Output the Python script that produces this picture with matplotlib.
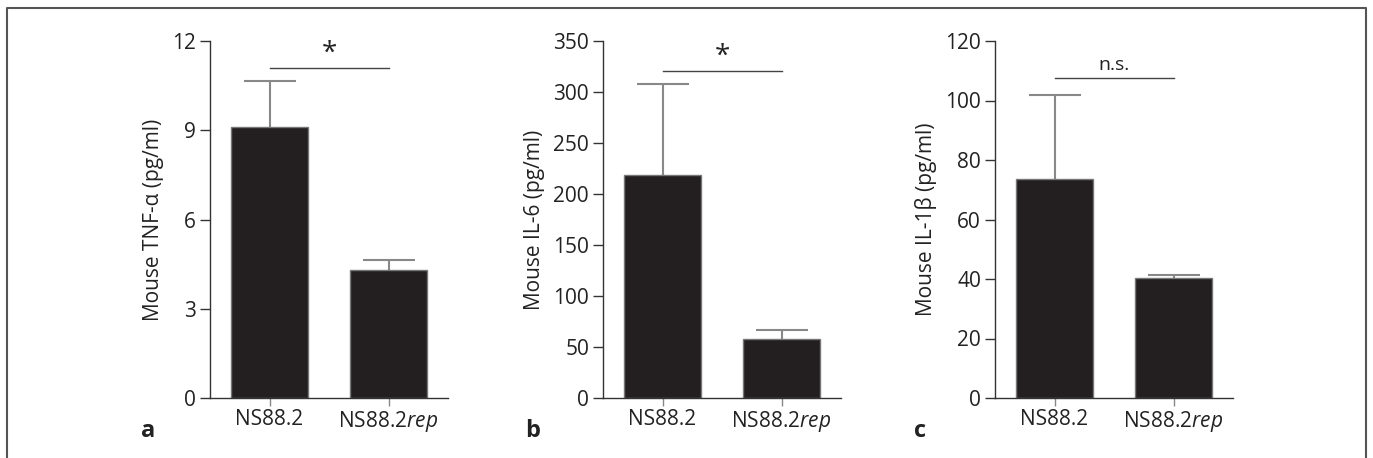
import matplotlib
matplotlib.use("Agg")
import matplotlib.pyplot as plt

plt.rcParams['font.family'] = ['Open Sans', 'DejaVu Sans']
plt.rcParams['mathtext.fontset'] = 'custom'
plt.rcParams['mathtext.rm'] = 'Open Sans'
plt.rcParams['mathtext.it'] = 'Open Sans:italic'

groups = ['NS88.2', 'NS88.2$\\mathit{rep}$']

tnf_mean = [9.1, 4.3]
tnf_err = [1.55, 0.35]
il6_mean = [219, 58]
il6_err = [89, 9]
il1b_mean = [73.5, 40.5]
il1b_err = [28.5, 0.8]

panels = [
    ('a', 'Mouse TNF-α (pg/ml)', tnf_mean, tnf_err, 12, [0, 3, 6, 9, 12], 11.1, '*'),
    ('b', 'Mouse IL-6 (pg/ml)', il6_mean, il6_err, 350, [0, 50, 100, 150, 200, 250, 300, 350], 321, '*'),
    ('c', 'Mouse IL-1β (pg/ml)', il1b_mean, il1b_err, 120, [0, 20, 40, 60, 80, 100, 120], 107.7, 'n.s.'),
]
lefts = [210, 603, 995]
label_x = [141, 525, 914]

W, H = 1373, 458
fig = plt.figure(figsize=(W / 100, H / 100), dpi=100)

# open-bottom frame around the figure
fig.add_artist(plt.Line2D([7 / W, 7 / W, 1366 / W, 1366 / W], [0, 1 - 8 / H, 1 - 8 / H, 0],
                          transform=fig.transFigure, color='#555555', lw=1.5))

spine_col = '#333333'
txt_col = '#222222'
for (lab, ylab, mean, err, ymax, ticks, sig_y, sig_txt), left, lx in zip(panels, lefts, label_x):
    ax = fig.add_axes([left / W, (H - 398) / H, 238 / W, 357 / H])
    x = [0, 1]
    ax.bar(x, mean, width=0.65, color='#231f20', edgecolor='#777777', linewidth=1, zorder=2)
    eb = ax.errorbar(x, mean, yerr=[[0, 0], err], fmt='none', ecolor='#888888',
                     elinewidth=1.5, capsize=19, capthick=1.5, zorder=1)
    # keep only the upper caps
    eb[1][0].set_visible(False)
    ax.set_xlim(-0.5, 1.5)
    ax.set_ylim(0, ymax)
    ax.set_yticks(ticks)
    ax.set_xticks(x)
    ax.set_xticklabels(groups)
    for s in ['top', 'right']:
        ax.spines[s].set_visible(False)
    for s in ['left', 'bottom']:
        ax.spines[s].set_color(spine_col)
        ax.spines[s].set_linewidth(1)
    ax.tick_params(axis='y', length=7, width=1, color=spine_col, labelsize=15, pad=3, labelcolor=txt_col)
    ax.tick_params(axis='x', length=6, width=1, color='#888888', labelsize=15, pad=2, labelcolor=txt_col)
    ax.set_ylabel(ylab, fontsize=15, color=txt_col, labelpad=6)
    ax.plot([0, 1], [sig_y, sig_y], color='#444444', lw=1, clip_on=False)
    if sig_txt == '*':
        ax.text(0.5, sig_y, '*', ha='center', va='bottom', fontsize=20, color=txt_col)
    else:
        ax.text(0.5, sig_y * 1.01, sig_txt, ha='center', va='bottom', fontsize=14, color=txt_col)
    fig.text(lx / W, 1 - 437 / H, lab, fontsize=17, fontweight='bold', color=txt_col)

fig.savefig('out.png', dpi=100)
